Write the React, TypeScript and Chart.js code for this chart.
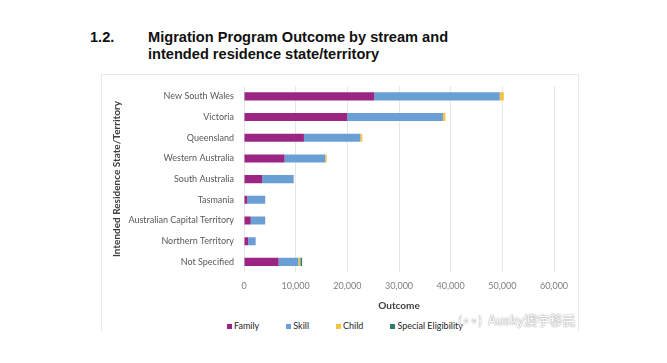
import React, { useEffect, useRef } from "react";
import { Chart, registerables } from "chart.js";

Chart.register(...registerables);

const categories = [
  "New South Wales",
  "Victoria",
  "Queensland",
  "Western Australia",
  "South Australia",
  "Tasmania",
  "Australian Capital Territory",
  "Northern Territory",
  "Not Specified",
];
const family = [25200, 20000, 11600, 7850, 3500, 650, 1300, 800, 6700];
const skill = [24300, 18500, 10900, 7850, 6100, 3450, 2800, 1450, 3850];
const child = [800, 500, 400, 300, 100, 20, 30, 20, 350];
const special = [0, 0, 0, 0, 0, 0, 0, 0, 350];
const xTicks = [0, 10000, 20000, 30000, 40000, 50000, 60000];
const seriesNames = ["Family", "Skill", "Child", "Special Eligibility"];
const seriesColors = ["#9B2583", "#6A9FD6", "#F4C444", "#2F7D6A"];

const FONT = "Lato, 'Open Sans', sans-serif";

export default function App() {
  const ref = useRef<HTMLCanvasElement | null>(null);

  useEffect(() => {
    if (!ref.current) return;
    const values = [family, skill, child, special];
    const chart = new Chart(ref.current, {
      type: "bar",
      data: {
        labels: categories,
        datasets: seriesNames.map((name, i) => ({
          label: name,
          data: values[i],
          backgroundColor: seriesColors[i],
        })),
      },
      options: {
        indexAxis: "y",
        animation: false,
        responsive: false,
        devicePixelRatio: 1,
        layout: { padding: { left: 8, right: 24, top: 10, bottom: 0 } },
        datasets: { bar: { categoryPercentage: 1, barPercentage: 0.39 } },
        plugins: {
          tooltip: { enabled: false },
          legend: { display: false },
        },
        scales: {
          x: {
            stacked: true,
            min: 0,
            max: 60000,
            afterBuildTicks: (scale: any) => {
              scale.ticks = xTicks.map((v) => ({ value: v }));
            },
            ticks: {
              color: "#7f7f7f",
              font: { family: FONT, size: 9 },
              padding: 8,
              callback: (v: any) => Number(v).toLocaleString("en-US"),
            },
            grid: { color: "#e6e6e6", drawTicks: false },
            border: { display: false },
            title: {
              display: true,
              text: "Outcome",
              color: "#404040",
              font: { family: FONT, size: 10, weight: "bold" },
              padding: { top: 1, bottom: 2 },
            },
          },
          y: {
            stacked: true,
            afterFit: (scale: any) => {
              scale.width = 134;
            },
            ticks: {
              color: "#595959",
              font: { family: FONT, size: 9 },
              padding: 2,
            },
            grid: { display: false },
            border: { display: false },
            title: {
              display: true,
              text: "Intended Residence State/Territory",
              color: "#404040",
              font: { family: FONT, size: 10, weight: "bold" },
              padding: { top: 1, bottom: 0 },
            },
          },
        },
      },
    });
    return () => chart.destroy();
  }, []);

  return (
    <div
      style={{
        position: "fixed",
        left: 0,
        top: 0,
        width: 667,
        height: 363,
        background: "#ffffff",
        overflow: "hidden",
        fontFamily: "'Liberation Sans', Arial, sans-serif",
      }}
    >
      <div
        style={{
          position: "absolute",
          left: 90,
          top: 29,
          fontSize: 14.6,
          fontWeight: "bold",
          color: "#111",
        }}
      >
        1.2.
      </div>
      <div
        style={{
          position: "absolute",
          left: 148,
          top: 29,
          fontSize: 14.6,
          lineHeight: "16.7px",
          fontWeight: "bold",
          color: "#111",
        }}
      >
        Migration Program Outcome by stream and
        <br />
        intended residence state/territory
      </div>
      <div
        style={{
          position: "absolute",
          left: 101,
          top: 74,
          width: 478,
          height: 270,
          border: "1.5px solid #e8e8e8",
          boxSizing: "border-box",
        }}
      />
      <canvas
        ref={ref}
        width={476}
        height={238}
        style={{ position: "absolute", left: 102, top: 76, width: 476, height: 238 }}
      />
      <div
        style={{
          position: "absolute",
          left: 227,
          top: 319,
          display: "flex",
          gap: 27,
          fontFamily: FONT,
          fontSize: 9,
          color: "#262626",
          lineHeight: "14px",
          whiteSpace: "nowrap",
        }}
      >
        {seriesNames.map((name, i) => (
          <div key={name} style={{ display: "flex", alignItems: "center" }}>
            <span
              style={{
                display: "inline-block",
                width: 5,
                height: 5,
                background: seriesColors[i],
                marginRight: 2,
              }}
            />
            {name}
          </div>
        ))}
      </div>
      <div
        style={{
          position: "absolute",
          left: 0,
          top: 331,
          width: 667,
          height: 32,
          background: "#ffffff",
        }}
      />
      <div
        style={{
          position: "absolute",
          left: 458,
          top: 310,
          fontSize: 13,
          color: "#ffffff",
          fontFamily: "'Noto Sans CJK SC', sans-serif",
          textShadow: "0 0 1px #888, 0 0 2px #aaa",
          whiteSpace: "nowrap",
        }}
      >
        <span style={{ fontSize: 12, marginRight: 6 }}>(∘∘)</span>Ausky澳宇移民
      </div>
    </div>
  );
}
